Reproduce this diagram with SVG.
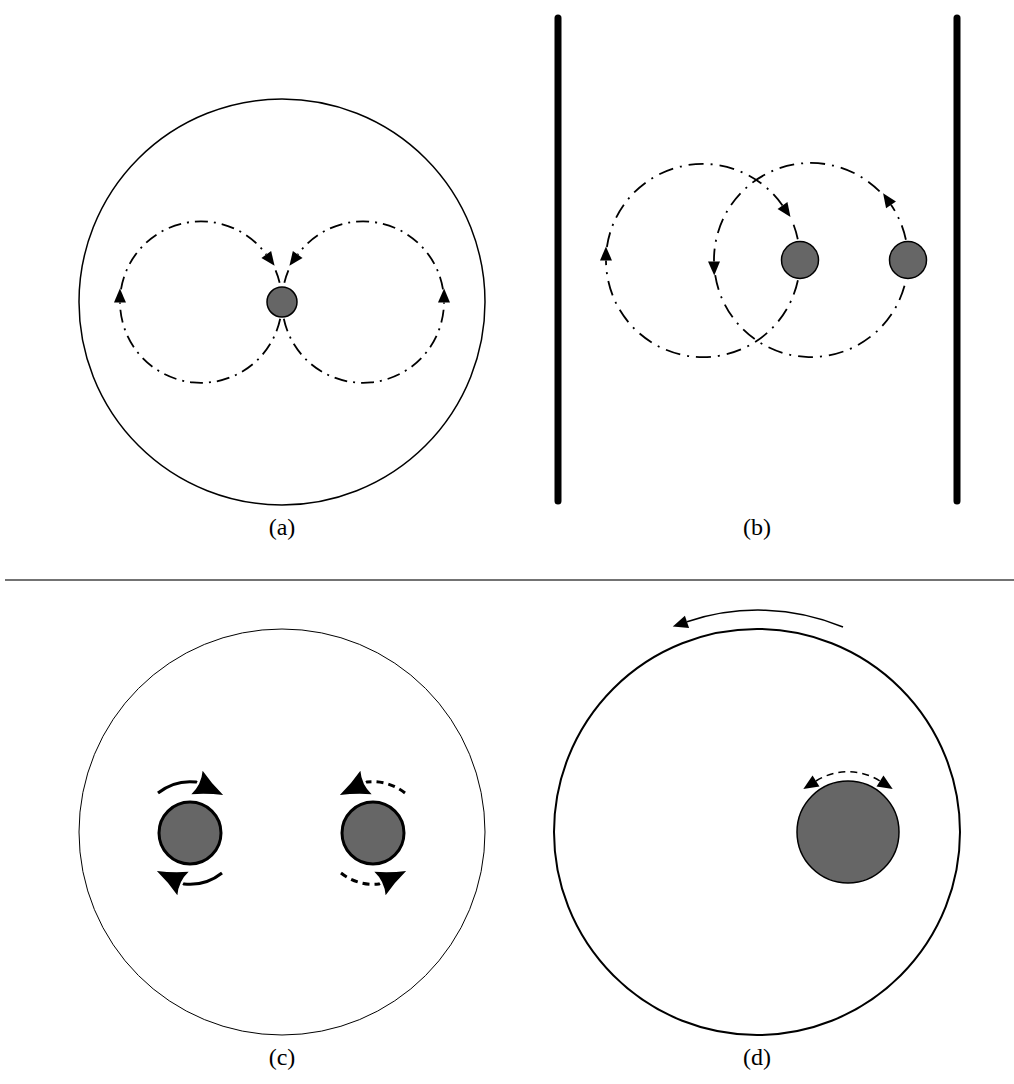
<svg xmlns="http://www.w3.org/2000/svg" width="1014" height="1084" viewBox="0 0 1014 1084">
<style>
.loopA{fill:none;stroke:#000;stroke-width:1.8;stroke-dasharray:13 6 2 6}
.loopB{fill:none;stroke:#000;stroke-width:1.8;stroke-dasharray:15 7 2 7}
.big{fill:none;stroke:#000}
.p{fill:#666;stroke:#000;stroke-width:1.5}
.pc{fill:#666;stroke:#000;stroke-width:3}
.rot{fill:none;stroke:#000;stroke-width:3}
.rotd{fill:none;stroke:#000;stroke-width:3;stroke-dasharray:7 5}
.wall{stroke:#000;stroke-width:7;stroke-linecap:round}
.lbl{font-family:"Liberation Serif","DejaVu Serif",serif;font-size:24px;text-anchor:middle;fill:#000}
</style>
<defs>
<marker id="sm" markerUnits="userSpaceOnUse" orient="auto" refX="0" refY="0" markerWidth="20" markerHeight="20" overflow="visible">
<path d="M0,-6 L14,0 L0,6 Z" fill="#000"/>
</marker>
<marker id="md" markerUnits="userSpaceOnUse" orient="auto-start-reverse" refX="0" refY="0" markerWidth="20" markerHeight="20" overflow="visible">
<path d="M0,-6.5 L15,0 L0,6.5 Z" fill="#000"/>
</marker>
<marker id="lg" markerUnits="userSpaceOnUse" orient="auto" refX="0" refY="0" markerWidth="40" markerHeight="40" overflow="visible">
<path d="M29,0 Q14,-5 0,-13 Q5,0 0,13 Q14,5 29,0 Z" fill="#000"/>
</marker>
</defs>

<g id="panel-a">
<circle id="a-domain" class="big" cx="282" cy="302" r="203" stroke-width="1.5"/>
<circle id="a-particle" class="p" cx="282" cy="302" r="15"/>
</g>

<g id="panel-b">
<line id="b-wall-left" class="wall" x1="558" y1="18" x2="558" y2="501"/>
<line id="b-wall-right" class="wall" x1="957" y1="18" x2="957" y2="501"/>
<circle id="b-particle1" class="p" cx="800" cy="260" r="18.5"/>
<circle id="b-particle2" class="p" cx="908" cy="260" r="18.5"/>
</g>

<line id="separator" x1="5" y1="580" x2="1014" y2="580" stroke="#444" stroke-width="1.5"/>

<g id="panel-c">
<circle id="c-domain" class="big" cx="282" cy="832" r="203" stroke-width="1"/>
<circle id="c-particle1" class="pc" cx="190" cy="833" r="31"/>
<circle id="c-particle2" class="pc" cx="373" cy="833" r="31"/>
</g>

<g id="panel-d">
<circle id="d-domain" class="big" cx="757" cy="832" r="203" stroke-width="2"/>
<circle id="d-particle" class="p" cx="848" cy="832" r="51"/>
</g>

<g id="connectors">
<!-- (a) left loop -->
<path class="loopA" marker-end="url(#sm)" d="M280.2,318.8 A81,81 0 0 1 120.0,302.5"/>
<path class="loopA" marker-end="url(#sm)" d="M121.0,289.3 A81,81 0 0 1 266.3,254.5"/>
<path class="loopA" d="M275.6,270.4 A81,81 0 0 1 280.2,285.2"/>
<!-- (a) right loop -->
<path class="loopA" marker-end="url(#sm)" d="M283.8,318.8 A81,81 0 0 0 444.0,302.5"/>
<path class="loopA" marker-end="url(#sm)" d="M443.0,289.3 A81,81 0 0 0 297.7,254.5"/>
<path class="loopA" d="M288.4,270.4 A81,81 0 0 0 283.8,285.2"/>
<!-- (b) left loop -->
<path class="loopB" marker-end="url(#sm)" d="M797.9,280.2 A97,97 0 0 1 606.0,260.5"/>
<path class="loopB" marker-end="url(#sm)" d="M606.9,247.0 A97,97 0 0 1 782.5,205.5"/>
<path class="loopB" d="M793.6,224.8 A97,97 0 0 1 797.9,239.8"/>
<!-- (b) right loop -->
<path class="loopB" marker-end="url(#sm)" d="M905.9,239.8 A97,97 0 0 0 891,204.8"/>
<path class="loopB" marker-end="url(#sm)" d="M879.6,191.4 A97,97 0 0 0 714.0,261.5"/>
<path class="loopB" d="M715.2,275.2 A97,97 0 0 0 905.9,280.2"/>
<!-- (c) rotation arrows -->
<path class="rot" marker-end="url(#lg)" d="M158,793 A52,52 0 0 1 196,782 l1,0.48"/>
<path class="rot" marker-end="url(#lg)" d="M222,873 A52,52 0 0 1 184,884 l-1,-0.48"/>
<path class="rotd" marker-end="url(#lg)" d="M405,793 A52,52 0 0 0 367,782 l-1,0.48"/>
<path class="rotd" marker-end="url(#lg)" d="M341,873 A52,52 0 0 0 379,884 l1,-0.48"/>
<!-- (d) arrows -->
<path fill="none" stroke="#000" stroke-width="1.5" marker-end="url(#md)" d="M843,627 A222,222 0 0 0 687,621.8"/>
<path fill="none" stroke="#000" stroke-width="1.5" stroke-dasharray="7 5" marker-start="url(#md)" marker-end="url(#md)" d="M816,781 A60,60 0 0 1 880,781"/>
</g>

<g id="labels">
<text class="lbl" x="282" y="535">(a)</text>
<text class="lbl" x="757" y="535">(b)</text>
<text class="lbl" x="282" y="1065">(c)</text>
<text class="lbl" x="757" y="1065">(d)</text>
</g>
</svg>
